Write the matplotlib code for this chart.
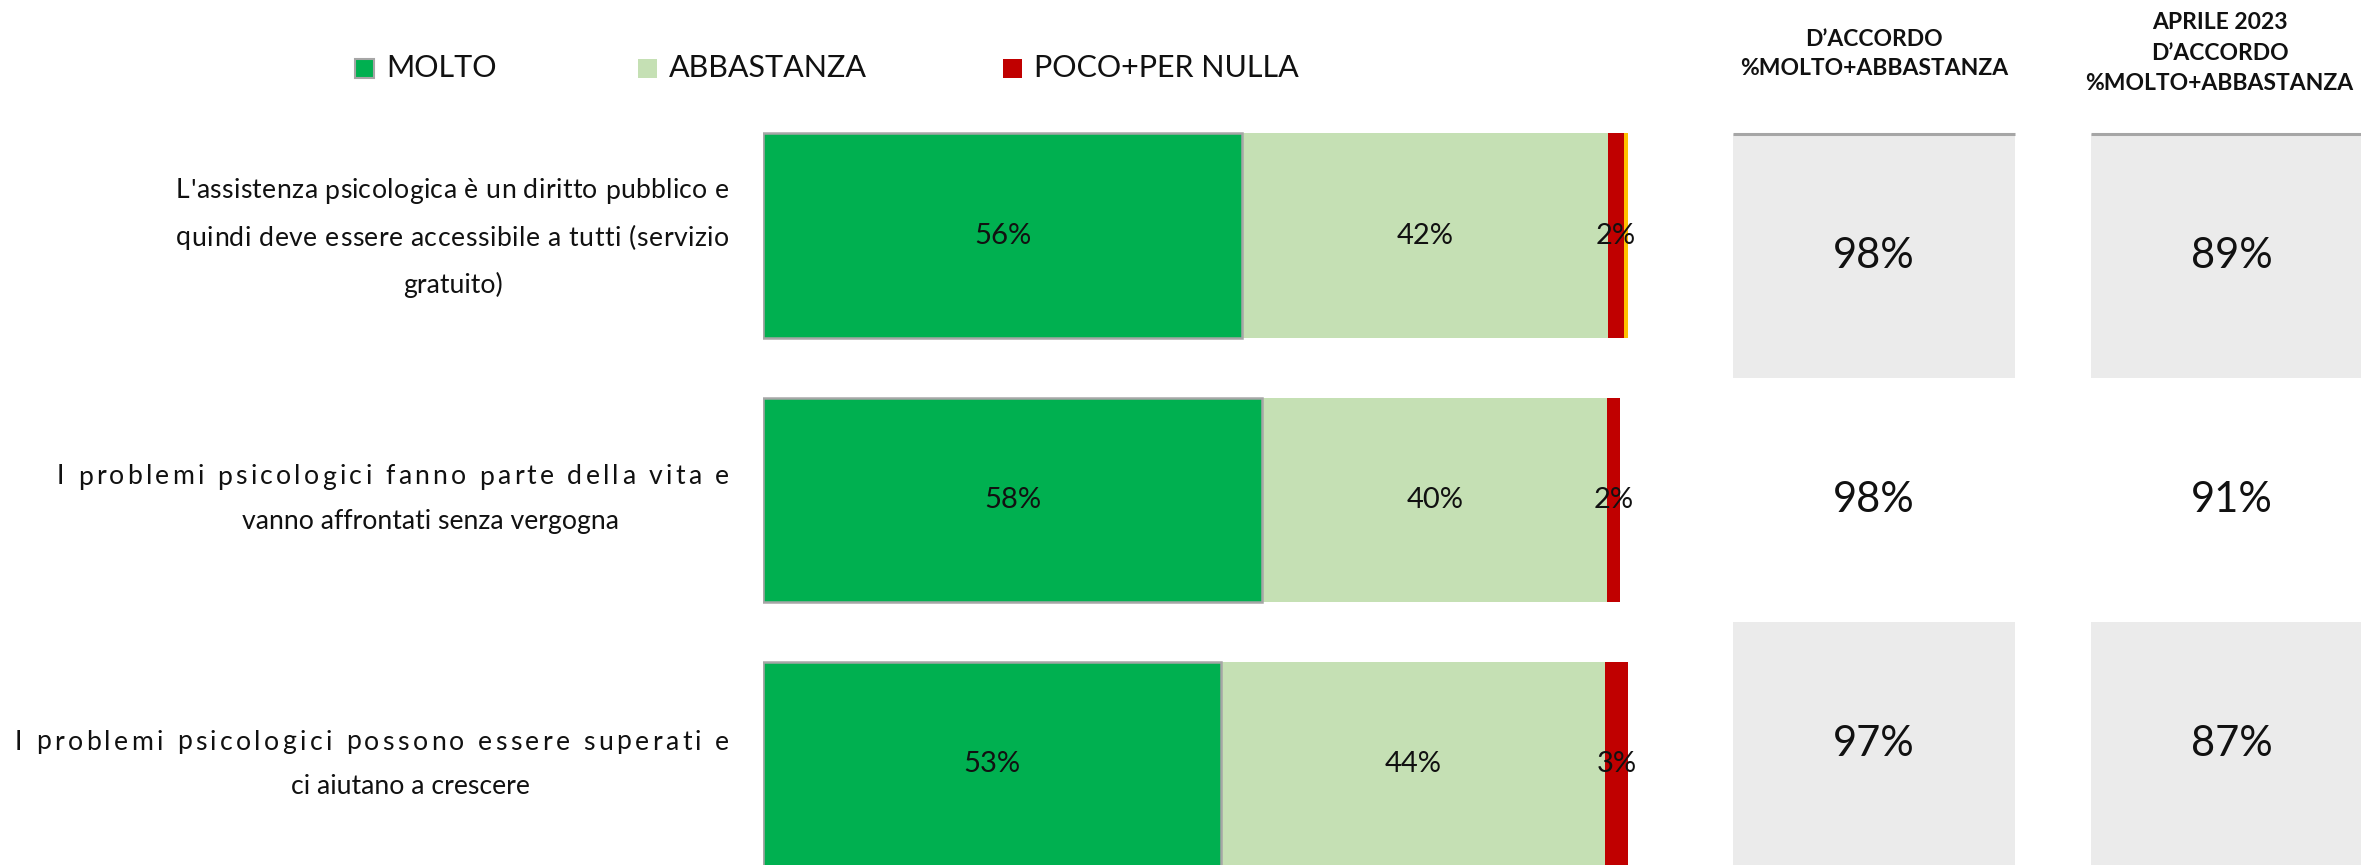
import matplotlib
matplotlib.use("Agg")
import matplotlib.pyplot as plt
from matplotlib.font_manager import FontProperties

W, H = 2361, 865
FONT = ["Lato", "DejaVu Sans"]
plt.rcParams["font.family"] = FONT

# ---------------- data ----------------
label_lines = [
    ["L'assistenza psicologica è un diritto pubblico e",
     "quindi deve essere accessibile a tutti (servizio",
     "gratuito)"],
    ["I problemi psicologici fanno parte della vita e",
     "vanno affrontati senza vergogna"],
    ["I problemi psicologici possono essere superati e",
     "ci aiutano a crescere"],
]
series_names = ["MOLTO", "ABBASTANZA", "POCO+PER NULLA"]
molto = [55.4, 57.7, 53.0]
abbastanza = [42.3, 39.9, 44.3]
poco = [1.85, 1.45, 2.75]
non_sa = [0.45, 0.0, 0.0]
molto_lbl = [56, 58, 53]
abbastanza_lbl = [42, 40, 44]
poco_lbl = [2, 2, 3]
accordo = [98, 98, 97]
aprile_2023 = [89, 91, 87]
col_headers = ["D\u2019ACCORDO\n%MOLTO+ABBASTANZA",
               "APRILE 2023\nD\u2019ACCORDO\n%MOLTO+ABBASTANZA"]

C_MOLTO = "#00B050"
C_ABB = "#C5E0B4"
C_POCO = "#C00000"
C_NS = "#FFC000"
C_EDGE = "#A6A6A6"
C_PANEL = "#EBEBEB"

fig = plt.figure(figsize=(W / 100, H / 100), dpi=100)
renderer = fig.canvas.get_renderer()

def fx(x):
    return x / W

def fy(y):
    return 1 - y / H

# ---------------- stacked bars ----------------
ax = fig.add_axes([fx(763), 0, 865 / W, 1])
ax.set_xlim(0, 100)
ax.set_ylim(2.384, -0.892)
ax.axis("off")
ypos = list(range(len(molto)))
bh = 0.773
left = [0.0] * 3
ax.barh(ypos, molto, left=left, height=bh, color=C_MOLTO,
        edgecolor=C_EDGE, linewidth=1.8, zorder=3)
left2 = [a for a in molto]
ax.barh(ypos, abbastanza, left=left2, height=bh, color=C_ABB,
        linewidth=0, zorder=2)
left3 = [a + b for a, b in zip(molto, abbastanza)]
ax.barh(ypos, poco, left=left3, height=bh, color=C_POCO,
        linewidth=0, zorder=2)
left4 = [a + b + c for a, b, c in zip(molto, abbastanza, poco)]
ax.barh(ypos, non_sa, left=left4, height=bh, color=C_NS,
        linewidth=0, zorder=2)

FS_BAR = 21
for i in ypos:
    ax.text(molto[i] / 2, i, f"{molto_lbl[i]}%", ha="center", va="center",
            fontsize=FS_BAR, color="#111111", zorder=5)
    ax.text(left2[i] + abbastanza[i] / 2, i, f"{abbastanza_lbl[i]}%",
            ha="center", va="center", fontsize=FS_BAR, color="#111111", zorder=5)
    ax.text(left3[i] + poco[i] / 2, i, f"{poco_lbl[i]}%",
            ha="center", va="center", fontsize=FS_BAR, color="#111111", zorder=5)

# ---------------- category labels ----------------
FS_LAB = 19.2
prop = FontProperties(family=FONT, size=FS_LAB)

def tw(s):
    return renderer.get_text_width_height_descent(s, prop, ismath=False)[0]

def spaced(line, x0, x1, y):
    """Letter-spaced line spanning x0..x1 (pixels)."""
    n = len(line)
    wx = tw("x")
    pos = [0.0] + [tw(line[:k] + "x") - wx for k in range(1, n)]
    natural = tw(line)
    extra = (x1 - x0 - natural) / max(n - 1, 1)
    for k, ch in enumerate(line):
        if ch == " ":
            continue
        fig.text(fx(x0 + pos[k] + k * extra), fy(y), ch, ha="left",
                 va="center", fontproperties=prop, color="#111111")

# (mode, a, b, y): 's' -> spread between a and b ; 'c' -> centered at a
line_layout = [
    [("s", 176, 729, 191), ("s", 176, 729, 238), ("c", 453, None, 285)],
    [("s", 57, 729, 477), ("c", 431, None, 522)],
    [("s", 15, 729, 742), ("c", 410, None, 786)],
]
for lines, lay in zip(label_lines, line_layout):
    for t, (mode, a, b, y) in zip(lines, lay):
        if mode == "s":
            spaced(t, a, b, y)
        else:
            fig.text(fx(a), fy(y), t, ha="center", va="center",
                     fontproperties=prop, color="#111111")

# ---------------- legend ----------------
FS_LEG = 22
leg_items = [(355, C_MOLTO, True), (638, C_ABB, False), (1003, C_POCO, False)]
for name, (x, c, edge) in zip(series_names, leg_items):
    r = plt.Rectangle((fx(x), fy(78)), 19 / W, 19 / H, transform=fig.transFigure,
                      facecolor=c, edgecolor=C_EDGE if edge else "none",
                      linewidth=1.5 if edge else 0)
    fig.add_artist(r)
    fig.text(fx(x + 31), fy(68), name, ha="left", va="center",
             fontsize=FS_LEG, color="#111111")

# ---------------- right table ----------------
ax2 = fig.add_axes([0, 0, 1, 1])
ax2.set_xlim(-1733 / 358, (W - 1733) / 358)
ax2.set_ylim((H - 256) / 244, -256 / 244)
ax2.axis("off")
ax2.patch.set_alpha(0)
col_w = 282 / 358
cols = [accordo, aprile_2023]
shade_rows = [0, 2]
head_y = [54, 53]
head_ls = [1.5, 1.55]
head_dx = [0.0, -0.035]
for ci, vals in enumerate(cols):
    x0 = ci * 1.0
    ax2.bar([x0 + col_w / 2] * len(shade_rows), [1.0] * len(shade_rows),
            bottom=[r - 0.5 for r in shade_rows], width=col_w,
            color=C_PANEL, linewidth=0, zorder=1)
    ax2.hlines(-0.5, x0, x0 + col_w, color=C_EDGE, linewidth=2.2, zorder=2)
    for ri, v in enumerate(vals):
        ax2.text(x0 + col_w / 2, ri, f"{v}%", ha="center", va="center",
                 fontsize=30, color="#111111", zorder=3)
    ax2.text(x0 + col_w / 2 + head_dx[ci], (head_y[ci] - 256) / 244,
             col_headers[ci], ha="center", va="center", fontsize=16.5,
             fontweight="bold", color="#111111", linespacing=head_ls[ci],
             zorder=3)

fig.savefig("out.png", dpi=100)
